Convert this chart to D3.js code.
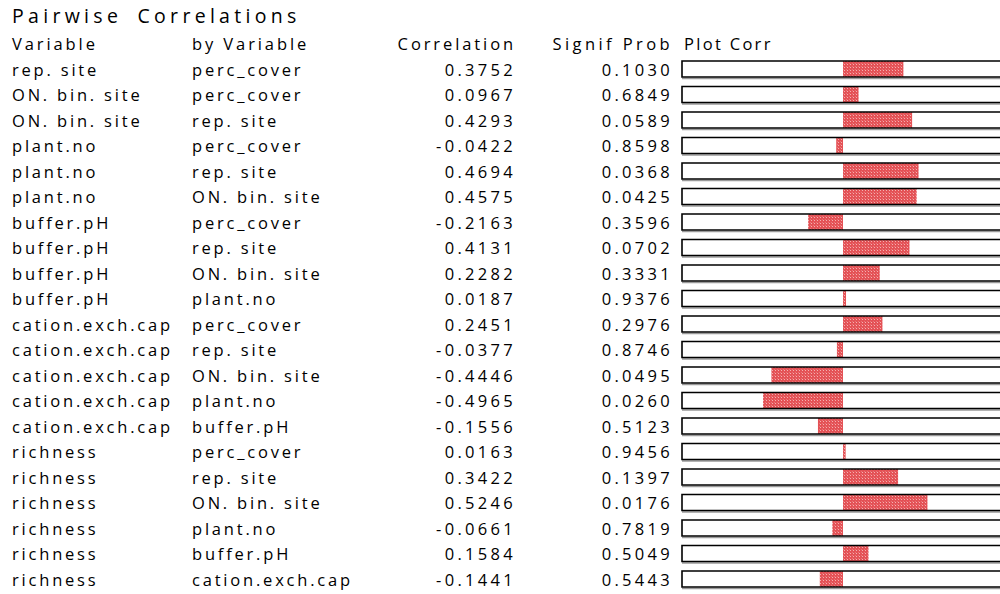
<!DOCTYPE html>
<html>
<head>
<meta charset="utf-8">
<script src="https://cdn.jsdelivr.net/npm/d3@7/dist/d3.min.js"></script>
<style>
  html, body { margin: 0; padding: 0; background: #fff; }
  svg { display: block; }
  text { font-family: "Open Sans", "DejaVu Sans", sans-serif; fill: #000; }
</style>
</head>
<body>
<svg id="chart" width="1000" height="594"></svg>
<script>
// Pairwise correlation table
const variables = ["rep. site", "ON. bin. site", "ON. bin. site", "plant.no", "plant.no", "plant.no",
  "buffer.pH", "buffer.pH", "buffer.pH", "buffer.pH",
  "cation.exch.cap", "cation.exch.cap", "cation.exch.cap", "cation.exch.cap", "cation.exch.cap",
  "richness", "richness", "richness", "richness", "richness", "richness"];
const byVariables = ["perc_cover", "perc_cover", "rep. site", "perc_cover", "rep. site", "ON. bin. site",
  "perc_cover", "rep. site", "ON. bin. site", "plant.no",
  "perc_cover", "rep. site", "ON. bin. site", "plant.no", "buffer.pH",
  "perc_cover", "rep. site", "ON. bin. site", "plant.no", "buffer.pH", "cation.exch.cap"];
const correlations = [0.3752, 0.0967, 0.4293, -0.0422, 0.4694, 0.4575,
  -0.2163, 0.4131, 0.2282, 0.0187,
  0.2451, -0.0377, -0.4446, -0.4965, -0.1556,
  0.0163, 0.3422, 0.5246, -0.0661, 0.1584, -0.1441];
const signifProbs = [0.1030, 0.6849, 0.0589, 0.8598, 0.0368, 0.0425,
  0.3596, 0.0702, 0.3331, 0.9376,
  0.2976, 0.8746, 0.0495, 0.0260, 0.5123,
  0.9456, 0.1397, 0.0176, 0.7819, 0.5049, 0.5443];
const headers = ["Variable", "by Variable", "Correlation", "Signif Prob", "Plot Corr"];
const title = "Pairwise Correlations";

const rows = variables.map((v, i) => ({
  v, by: byVariables[i], r: correlations[i], p: signifProbs[i]
}));

const svg = d3.select("#chart");
const LS_TEXT = "2.8px";
const LS_NUM = "3.3px";
const FS = 16.5;

// hatched red fill for the correlation bars
const defs = svg.append("defs");
const pat = defs.append("pattern")
  .attr("id", "hatch").attr("patternUnits", "userSpaceOnUse")
  .attr("width", 3).attr("height", 3);
pat.append("rect").attr("width", 3).attr("height", 3).attr("fill", "#e45256");
pat.append("rect").attr("x", 1).attr("y", 1).attr("width", 1).attr("height", 1).attr("fill", "#f4b0b0");
pat.append("rect").attr("x", 0).attr("y", 0).attr("width", 1).attr("height", 1).attr("fill", "#e8767a");

// row layout: 25.5 px step, 16 px tall plot box per row
const STEP = 25.5, BOX = 16, TOP = 61;
const pad = (STEP - BOX) / STEP;
const y = d3.scaleBand().domain(d3.range(rows.length))
  .range([TOP, TOP + STEP * (rows.length - pad)])
  .paddingInner(pad).paddingOuter(0);
const x = d3.scaleLinear().domain([-1, 1]).range([682, 1004]);

// title and column headers
svg.append("text").attr("x", 12).attr("y", 23).attr("font-size", 19.5)
  .style("letter-spacing", "4.3px").style("word-spacing", "6px").text(title);

const colX = [12, 192, 516, 673, 684];
const anchors = ["start", "start", "end", "end", "start"];
const headerLS = ["2.9px", "2.9px", "2.9px", "3.4px", "2.3px"];
svg.selectAll("text.hdr").data(headers).join("text")
  .attr("class", "hdr")
  .attr("x", (d, i) => colX[i]).attr("y", 50)
  .attr("font-size", FS).attr("text-anchor", (d, i) => anchors[i])
  .style("letter-spacing", (d, i) => headerLS[i]).text(d => d);

const g = svg.selectAll("g.row").data(rows).join("g").attr("class", "row");
const rowBase = (d, i) => y(i) + 14.5;

g.append("text").attr("x", colX[0]).attr("y", rowBase).attr("font-size", FS)
  .style("letter-spacing", LS_TEXT).text(d => d.v);
g.append("text").attr("x", colX[1]).attr("y", rowBase).attr("font-size", FS)
  .style("letter-spacing", LS_TEXT).text(d => d.by);
g.append("text").attr("x", colX[2]).attr("y", rowBase).attr("font-size", FS)
  .attr("text-anchor", "end").style("letter-spacing", LS_NUM).text(d => d.r.toFixed(4));
g.append("text").attr("x", colX[3]).attr("y", rowBase).attr("font-size", FS)
  .attr("text-anchor", "end").style("letter-spacing", LS_NUM).text(d => d.p.toFixed(4));

// correlation bars
g.append("rect")
  .attr("x", d => x(Math.min(0, d.r)))
  .attr("width", d => Math.abs(x(d.r) - x(0)))
  .attr("y", (d, i) => y(i))
  .attr("height", y.bandwidth())
  .attr("fill", "url(#hatch)");

// box frame: top, left, bottom edges with a soft shadow under the bottom
g.append("line").attr("x1", x(-1)).attr("x2", x(1) + 2)
  .attr("y1", (d, i) => y(i) + y.bandwidth() + 1.5).attr("y2", (d, i) => y(i) + y.bandwidth() + 1.5)
  .attr("stroke", "#9a9a9a").attr("stroke-width", 1.5);
g.append("path")
  .attr("d", (d, i) => {
    const t = y(i), b = y(i) + y.bandwidth(), l = x(-1);
    return `M${x(1) + 2},${t}H${l}V${b}H${x(1) + 2}`;
  })
  .attr("fill", "none").attr("stroke", "#000").attr("stroke-width", 1.6);
</script>
</body>
</html>
